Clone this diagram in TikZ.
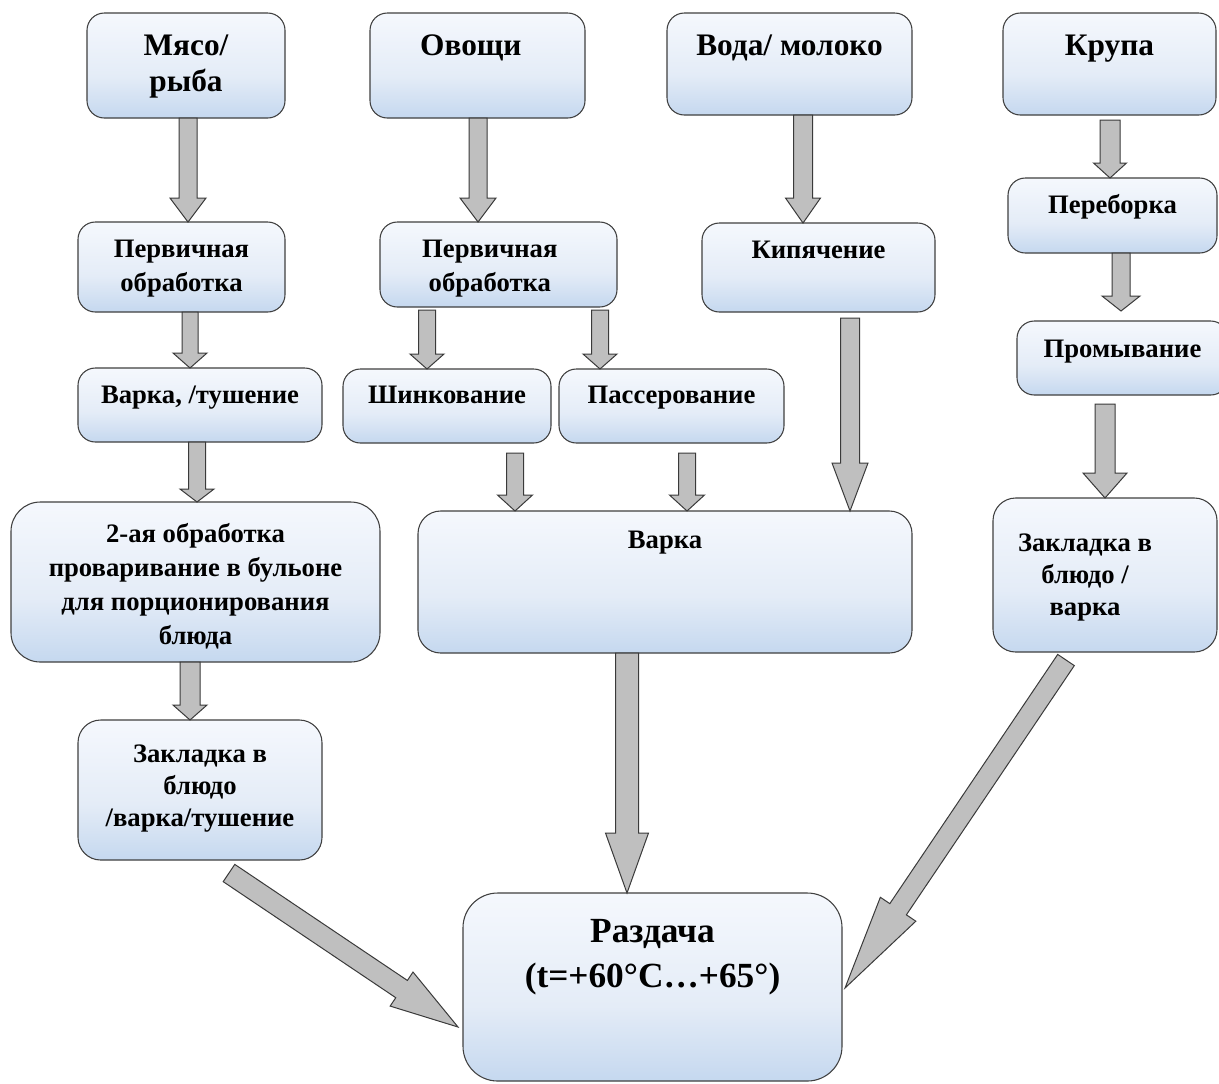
\documentclass[tikz,border=0pt]{standalone}
\usepackage{fontspec}
\setmainfont{Liberation Serif}
\usetikzlibrary{calc}
\definecolor{bxtop}{HTML}{F5F8FD}
\definecolor{bxmid}{HTML}{E4ECF7}
\definecolor{bxbot}{HTML}{C5D8EF}
\definecolor{bxline}{HTML}{404040}
\definecolor{arfill}{HTML}{BFBFBF}
\definecolor{arline}{HTML}{3A3A3A}
\pgfdeclareverticalshading{boxsh}{100bp}{color(0bp)=(bxbot); color(25bp)=(bxbot); color(45bp)=(bxmid); color(75bp)=(bxtop); color(100bp)=(bxtop)}
\newcommand\fhead{\fontsize{23.5}{27.5}\selectfont\bfseries}
\newcommand\fsm{\fontsize{20}{25.5}\selectfont\bfseries}
\newcommand\fsmb{\fontsize{20}{24}\selectfont\bfseries}
\newcommand\fbig{\fontsize{26.5}{34}\selectfont\bfseries}
\tikzset{
  bx/.style={draw=bxline, line width=0.8pt, shading=boxsh, rectangle, rounded corners=13pt, inner sep=0pt, outer sep=0pt},
  barr/.style={draw=arline, fill=arfill, line width=0.75pt, line join=miter}
}
\newcommand\mkbox[8][]{%
  \pgfmathsetlengthmacro\bxW{(#5-#3)*0.75pt}%
  \pgfmathsetlengthmacro\bxH{(#6-#4)*0.75pt}%
  \pgfmathsetlengthmacro\bxO{#7*0.75pt}%
  \node[bx,#1] (#2) at ({(#3+#5)/2},{(#4+#6)/2}) {\parbox[b][\bxH][t]{\bxW}{\centering\rule{0pt}{\bxO}#8\par}};}
\newcommand\barrow[5]{%
  \pgfmathsetlengthmacro\aSW{#3*0.75pt}%
  \pgfmathsetlengthmacro\aHW{#4*0.75pt}%
  \pgfmathsetlengthmacro\aHL{#5*0.75pt}%
  \coordinate (ta) at #1; \coordinate (tb) at #2;
  \coordinate (th) at ($(tb)!\aHL!(ta)$);
  \draw[barr] ($(ta)!\aSW!90:(tb)$) -- ($(th)!\aSW!90:(tb)$) -- ($(th)!\aHW!90:(tb)$) -- (tb) -- ($(th)!\aHW!-90:(tb)$) -- ($(th)!\aSW!-90:(tb)$) -- ($(ta)!\aSW!-90:(tb)$) -- cycle;}
\begin{document}
\begin{tikzpicture}[x=0.75pt,y=-0.75pt]
\useasboundingbox (0,0) rectangle (1219,1083);
\fill[white] (0,0) rectangle (1219,1083);
\clip (0,0) rectangle (1219,1083);
% boxes
\mkbox{m1}{87}{13}{285}{118}{42}{\fhead Мясо/\\рыба}
\mkbox{v0}{370}{13}{585}{118}{42}{\fhead\rightskip=10pt plus 1fil Овощи}
\mkbox{w0}{667}{13}{912}{115}{42}{\fhead Вода/ молоко}
\mkbox{k0}{1003}{13}{1216}{115}{42}{\fhead Крупа}
\mkbox{p1}{78}{222}{285}{312}{35}{\fsm Первичная\\обработка}
\mkbox{v1}{380}{222}{617}{307}{35}{\fsm\rightskip=13pt plus 1fil Первичная\\обработка}
\mkbox{w1}{702}{223}{935}{312}{35}{\fsm Кипячение}
\mkbox{k1}{1008}{178}{1217}{253}{35}{\fsm Переборка}
\mkbox{k2}{1017}{321}{1228}{395}{36}{\fsm Промывание}
\mkbox{m2}{78}{368}{322}{442}{35}{\fsm Варка, /тушение}
\mkbox{v2}{343}{369}{551}{443}{34}{\fsm Шинкование}
\mkbox{v3}{559}{369}{784}{443}{34}{\fsm Пассерование}
\mkbox[rounded corners=22pt]{m3}{11}{502}{380}{662}{40}{\fsm 2-ая обработка\\проваривание в бульоне\\для порционирования\\блюда}
\mkbox[rounded corners=17pt]{vv}{418}{511}{912}{653}{37}{\fsm Варка}
\mkbox[rounded corners=17pt]{k3}{993}{498}{1217}{652}{53}{\fsmb\rightskip=30pt plus 1fil Закладка в\\блюдо /\\варка}
\mkbox[rounded corners=17pt]{m4}{78}{720}{322}{860}{42}{\fsmb Закладка в\\блюдо\\/варка/тушение}
\mkbox[rounded corners=26pt]{r}{463}{893}{842}{1081}{49}{\fbig Раздача\\(t=+60°C…+65°)}
% arrow x positions
\coordinate (ax1) at (188,0);
\coordinate (ax2) at (478,0);
\coordinate (ax3) at (803,0);
\coordinate (ax4) at (1110,0);
\coordinate (ax5) at (1121,0);
\coordinate (ax6) at (190,0);
\coordinate (ax7) at (427,0);
\coordinate (ax8) at (600,0);
\coordinate (ax9) at (515,0);
\coordinate (ax10) at (687,0);
\coordinate (ax11) at (850,0);
\coordinate (ax12) at (197,0);
\coordinate (ax13) at (1105,0);
\coordinate (ax14) at (190,0);
\coordinate (ax15) at (627,0);
% arrows
\barrow{(m1.south -| ax1)}{(p1.north -| ax1)}{9}{18}{24}
\barrow{(v0.south -| ax2)}{(v1.north -| ax2)}{9}{18}{24}
\barrow{(w0.south -| ax3)}{(w1.north -| ax3)}{9.5}{17.5}{25}
\barrow{($(k0.south -| ax4)+(0,5)$)}{(k1.north -| ax4)}{10}{16.5}{15}
\barrow{(k1.south -| ax5)}{($(k2.north -| ax5)+(0,-10)$)}{9}{19}{15}
\barrow{(p1.south -| ax6)}{(m2.north -| ax6)}{8}{17}{15}
\barrow{($(v1.south -| ax7)+(0,3)$)}{(v2.north -| ax7)}{8.5}{17}{15}
\barrow{($(v1.south -| ax8)+(0,3)$)}{(v3.north -| ax8)}{8.5}{17}{15}
\barrow{($(v2.south -| ax9)+(0,10)$)}{(vv.north -| ax9)}{8.5}{17.5}{16}
\barrow{($(v3.south -| ax10)+(0,10)$)}{(vv.north -| ax10)}{8.5}{17.5}{16}
\barrow{($(w1.south -| ax11)+(0,6)$)}{(vv.north -| ax11)}{9.5}{18}{48}
\barrow{(m2.south -| ax12)}{(m3.north -| ax12)}{8.5}{17}{13}
\barrow{($(k2.south -| ax13)+(0,9)$)}{(k3.north -| ax13)}{10}{22}{25}
\barrow{(m3.south -| ax14)}{(m4.north -| ax14)}{10}{17}{15}
\barrow{(vv.south -| ax15)}{(r.north -| ax15)}{11.5}{21.5}{60}
\barrow{($(m4.south)+(29,13)$)}{($(r.west)+(-5,40)$)}{10.4}{20.5}{68}
\barrow{($(k3.south)+(-39,8)$)}{($(r.east)+(3,1)$)}{10}{21.4}{95}
\end{tikzpicture}
\end{document}
